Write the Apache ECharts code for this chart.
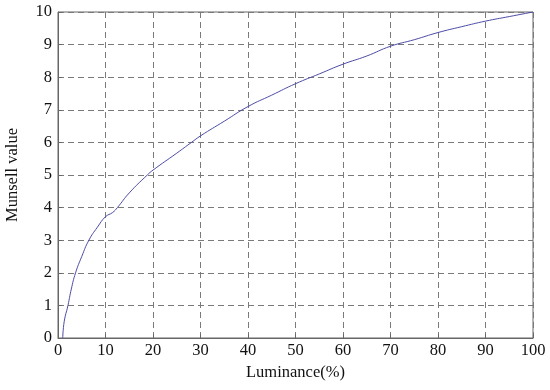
<!DOCTYPE html>
<html>
<head>
<meta charset="utf-8">
<script src="https://cdn.jsdelivr.net/npm/echarts@6/dist/echarts.min.js"></script>
<style>
	html, body { margin: 0; padding: 0; background: #fff; }
	#main { width: 550px; height: 390px; }
</style>
</head>
<body>
<div id="main"></div>
<script>
	// 读自图片的数据点
	var luminance = [1.0, 1.3, 2.1, 2.8, 3.7, 5.0, 6.5, 8.3, 10, 11.5, 12.5, 15, 18.8, 20, 25, 28.1, 30, 35, 40, 45, 50, 55, 60, 65, 70, 75, 80, 85, 90, 95, 100];
	var munsell   = [0, 0.5, 1.0, 1.5, 2.0, 2.5, 3.0, 3.4, 3.72, 3.85, 4.0, 4.45, 5.0, 5.15, 5.67, 6.0, 6.2, 6.65, 7.1, 7.45, 7.8, 8.1, 8.4, 8.65, 8.95, 9.15, 9.37, 9.55, 9.72, 9.86, 10.0];
	var xTicks = [0, 100, 10];
	var yTicks = [0, 10, 1];

	var points = luminance.map(function (x, i) { return [x, munsell[i]]; });

	var font = 'Liberation Serif';
	var myChart = echarts.init(document.getElementById('main'));

	var option = {
		animation: false,
		grid: {
			left: 58, right: 17, top: 12, bottom: 52,
			outerBoundsMode: 'none',
			containLabel: false,
			show: true, borderColor: '#666', borderWidth: 1
		},
		xAxis: {
			type: 'value',
			min: xTicks[0], max: xTicks[1], interval: xTicks[2],
			name: 'Luminance(%)',
			nameLocation: 'middle',
			nameGap: 26,
			nameTextStyle: { fontFamily: font, fontSize: 16.5, color: '#111' },
			axisLine: { lineStyle: { color: '#666' } },
			axisTick: { inside: true, length: 4, lineStyle: { color: '#666' } },
			axisLabel: { fontFamily: font, fontSize: 16.5, color: '#111', margin: 4 },
			splitLine: { show: true, lineStyle: { color: '#7a7a7a', type: [6, 4] } }
		},
		yAxis: {
			type: 'value',
			min: yTicks[0], max: yTicks[1], interval: yTicks[2],
			name: 'Munsell value',
			nameLocation: 'middle',
			nameGap: 37,
			nameTextStyle: { fontFamily: font, fontSize: 16.5, color: '#111' },
			axisLine: { show: true, lineStyle: { color: '#666' } },
			axisTick: { show: true, inside: true, length: 4, lineStyle: { color: '#666' } },
			axisLabel: { fontFamily: font, fontSize: 16.5, color: '#111', margin: 6 },
			splitLine: { show: true, lineStyle: { color: '#7a7a7a', type: [6, 4] } }
		},
		series: [{
			type: 'line',
			data: points,
			smooth: true,
			showSymbol: false,
			lineStyle: { color: '#4c4ca6', width: 1 }
		}]
	};

	myChart.setOption(option);
</script>
</body>
</html>
